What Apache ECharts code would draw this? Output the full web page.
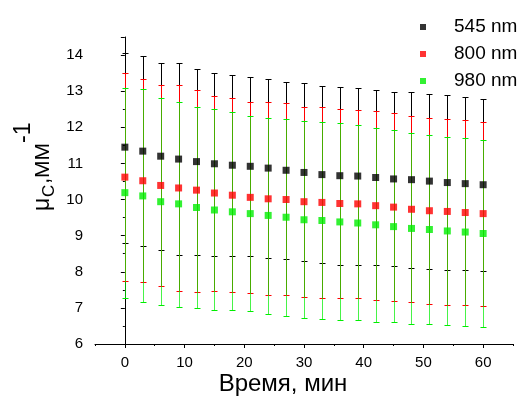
<!DOCTYPE html>
<html><head><meta charset="utf-8">
<script src="https://cdn.jsdelivr.net/npm/echarts@6/dist/echarts.min.js"></script>
<style>html,body{margin:0;padding:0;background:#fff}#c{width:531px;height:399px}</style>
</head><body><div id="c"></div>
<script>
const times = [0,3,6,9,12,15,18,21,24,27,30,33,36,39,42,45,48,51,54,57,60];
const xTickLabels = [0,10,20,30,40,50,60];
const seriesNames = ['545 nm','800 nm','980 nm'];

const mean545 = [11.45,11.34,11.20,11.12,11.05,10.99,10.95,10.92,10.87,10.81,10.75,10.69,10.66,10.65,10.61,10.57,10.55,10.51,10.47,10.44,10.41];
const high545 = [14.07,13.97,13.78,13.77,13.62,13.51,13.46,13.40,13.33,13.26,13.23,13.15,13.11,13.08,13.04,12.98,12.97,12.93,12.90,12.83,12.79];
const low545  = [8.80,8.70,8.60,8.47,8.46,8.45,8.43,8.43,8.38,8.35,8.29,8.25,8.20,8.20,8.18,8.15,8.11,8.08,8.05,8.04,8.02];

const mean800 = [10.62,10.52,10.39,10.32,10.26,10.18,10.12,10.06,10.02,10.00,9.94,9.92,9.89,9.88,9.83,9.79,9.73,9.69,9.67,9.64,9.61];
const high800 = [13.49,13.33,13.16,13.16,13.04,12.87,12.82,12.69,12.69,12.66,12.57,12.56,12.52,12.48,12.44,12.39,12.31,12.27,12.24,12.21,12.16];
const low800  = [7.75,7.71,7.60,7.46,7.44,7.47,7.43,7.41,7.35,7.35,7.29,7.27,7.27,7.27,7.22,7.19,7.15,7.12,7.08,7.07,7.05];

const mean980 = [10.19,10.10,9.94,9.88,9.78,9.71,9.66,9.61,9.56,9.51,9.44,9.42,9.38,9.35,9.30,9.25,9.20,9.17,9.13,9.10,9.06];
const high980 = [13.10,13.06,12.80,12.71,12.57,12.50,12.41,12.32,12.27,12.23,12.18,12.14,12.11,12.05,11.99,11.92,11.84,11.79,11.74,11.69,11.66];
const low980  = [7.26,7.16,7.09,7.03,6.99,6.94,6.93,6.91,6.83,6.78,6.72,6.69,6.67,6.66,6.61,6.60,6.56,6.54,6.52,6.50,6.47];

const colors = ['#000000','#ff0000','#00ee00'];
const FONT = 'Liberation Sans, Arial, sans-serif';

function errData(lo, hi){ return times.map((t,i)=>[t, lo[i], hi[i]]); }
function ptData(m){ return times.map((t,i)=>[t, m[i]]); }

function errSeries(name, lo, hi, color, opacity){
  return {
    type:'custom', name: name + ' err', xAxisIndex:0, yAxisIndex:0,
    data: errData(lo, hi), silent:true, z:2,
    renderItem: function(params, api){
      const x = api.value(0);
      const pLo = api.coord([x, api.value(1)]);
      const pHi = api.coord([x, api.value(2)]);
      const cx = Math.round(pLo[0]) + 0.5;
      const st = {stroke: color, lineWidth: 1, opacity: opacity};
      const yh = Math.round(pHi[1]) + 0.5, yl = Math.round(pLo[1]) + 0.5;
      return {type:'group', children:[
        {type:'line', shape:{x1:cx, y1:yh, x2:cx, y2:yl}, style:st},
        {type:'line', shape:{x1:cx-3, y1:yh, x2:cx+3, y2:yh}, style:{stroke:color, lineWidth:1}},
        {type:'line', shape:{x1:cx-3, y1:yl, x2:cx+3, y2:yl}, style:{stroke:color, lineWidth:1}}
      ]};
    }
  };
}
function ptSeries(name, m, color){
  return {type:'scatter', name:name, xAxisIndex:0, yAxisIndex:0, data: ptData(m),
    symbol:'rect', symbolSize:7, itemStyle:{color:color}, z:5};
}
function tx(text, x, y, fs){
  return {type:'text', x:x, y:y, style:{text:text, fontFamily:FONT, fontSize:fs, fill:'#000', align:'left', verticalAlign:'middle'}};
}

const chart = echarts.init(document.getElementById('c'), null, {renderer:'canvas'});
chart.setOption({
  animation:false,
  backgroundColor:'#fff',
  grid:{left:95, right:18, top:37, bottom:55, containLabel:false, outerBoundsMode:'none'},
  legend:{
    data: seriesNames, orient:'vertical', left:415, top:12,
    icon:'rect', itemWidth:6, itemHeight:6, itemGap:7,
    textStyle:{fontFamily:FONT, fontSize:19, color:'#000', lineHeight:20, padding:[0,0,0,23]}
  },
  xAxis:[{
    type:'value', min:-5, max:65, interval:5,
    axisLine:{lineStyle:{color:'#000', width:1}},
    axisTick:{show:true, length:4, inside:false, lineStyle:{color:'#000'}, customValues: xTickLabels},
    axisLabel:{color:'#000', fontFamily:FONT, fontSize:15, margin:11, customValues: xTickLabels},
    splitLine:{show:false}
  },{
    type:'value', min:-5, max:65, interval:10, position:'bottom',
    axisLine:{show:false},
    axisTick:{show:true, length:2, lineStyle:{color:'#000'}},
    axisLabel:{show:false},
    splitLine:{show:false}
  }],
  yAxis:{
    type:'value', min:6, max:14.5, interval:1,
    axisLine:{show:true, lineStyle:{color:'#000', width:1}},
    axisTick:{show:true, length:4, lineStyle:{color:'#000'}},
    minorTick:{show:true, splitNumber:2, length:2, lineStyle:{color:'#000'}},
    axisLabel:{color:'#000', fontFamily:FONT, fontSize:15, margin:12,
      formatter: v => (v % 1 === 0 ? String(v) : '')},
    splitLine:{show:false}
  },
  graphic:[
    {type:'group', x:51, y:211, rotation:Math.PI/2, children:[
      tx('μ', 0, -8, 23),
      tx('C', 14, -2, 17),
      tx(',', 27, -8, 23),
      tx('ММ', 33, -8, 21),
      tx('-1', 68, -27, 23)
    ]},
    {type:'text', x:283, y:384, style:{text:'Время, мин', fontFamily:FONT, fontSize:24, fill:'#000', align:'center', verticalAlign:'middle'}}
  ],
  series:[
    errSeries(seriesNames[0], low545, high545, colors[0], 1),
    errSeries(seriesNames[1], low800, high800, colors[1], 1),
    errSeries(seriesNames[2], low980, high980, colors[2], 0.72),
    ptSeries(seriesNames[0], mean545, colors[0]),
    ptSeries(seriesNames[1], mean800, colors[1]),
    ptSeries(seriesNames[2], mean980, colors[2])
  ]
});
</script></body></html>
